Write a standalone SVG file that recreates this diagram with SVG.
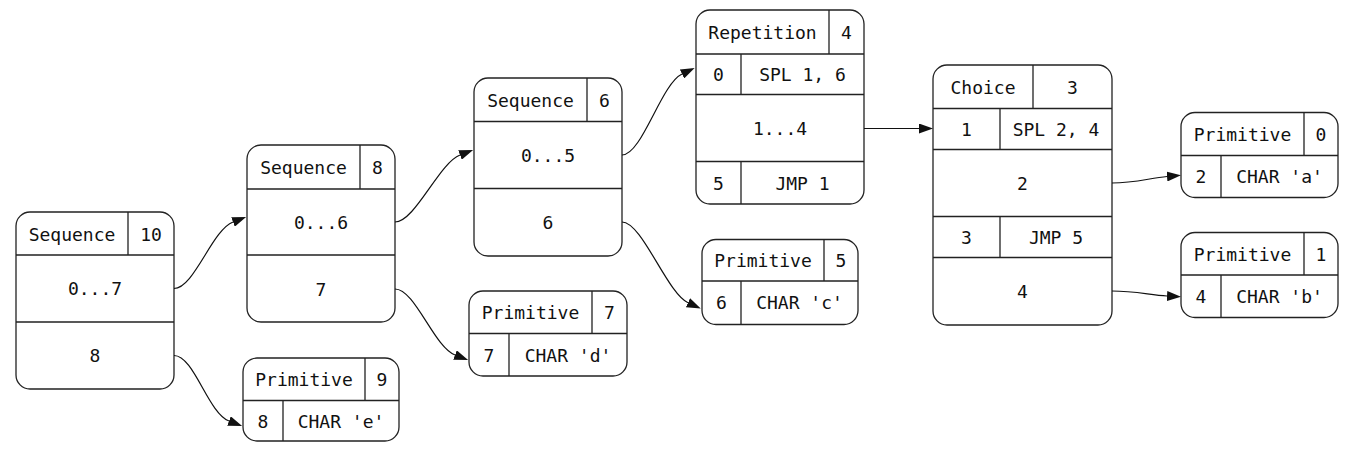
<svg xmlns="http://www.w3.org/2000/svg" width="1355" height="454" viewBox="0 0 1355 454">
<style>
.b{fill:#fff;stroke:#222;stroke-width:1.3}
.l{stroke:#222;stroke-width:1.3;fill:none}
.e{stroke:#111;stroke-width:1.2;fill:none}
text{font-family:"DejaVu Sans Mono",monospace;font-size:18px;fill:#111;text-anchor:middle}
</style>
<defs>
<marker id="a" viewBox="0 0 14 10" refX="0" refY="5" markerWidth="14" markerHeight="10" markerUnits="userSpaceOnUse" orient="auto">
<polygon points="0,0 14,5 0,10" fill="#111"/>
</marker>
</defs>
<rect width="1355" height="454" fill="#fff"/>
<g id="seq10">
<rect class="b" x="16" y="212" width="158" height="177" rx="14"/>
<path class="l" d="M16,255H174M128,212V255M16,322H174"/>
<text x="72" y="240.5">Sequence</text><text x="151" y="240.5">10</text>
<text x="95" y="295">0...7</text><text x="95" y="362">8</text>
</g>
<g id="seq8">
<rect class="b" x="247" y="145" width="148" height="177" rx="14"/>
<path class="l" d="M247,189H395M360,145V189M247,255H395"/>
<text x="303.5" y="173.5">Sequence</text><text x="377.5" y="173.5">8</text>
<text x="321" y="228.5">0...6</text><text x="321" y="295.5">7</text>
</g>
<g id="prim9">
<rect class="b" x="243" y="358" width="156" height="83" rx="14"/>
<path class="l" d="M243,400.5H399M365,358V400.5M283,400.5V441"/>
<text x="304" y="385.5">Primitive</text><text x="382" y="385.5">9</text>
<text x="263" y="427.5">8</text><text x="341" y="427.5">CHAR 'e'</text>
</g>
<g id="seq6">
<rect class="b" x="474" y="78" width="148" height="178" rx="14"/>
<path class="l" d="M474,121.5H622M587,78V121.5M474,188.5H622"/>
<text x="530.5" y="106.5">Sequence</text><text x="604.5" y="106.5">6</text>
<text x="548" y="161.5">0...5</text><text x="548" y="228.5">6</text>
</g>
<g id="prim7">
<rect class="b" x="469" y="291" width="158" height="85" rx="14"/>
<path class="l" d="M469,333.5H627M592,291V333.5M509,333.5V376"/>
<text x="530.5" y="318.5">Primitive</text><text x="609.5" y="318.5">7</text>
<text x="489" y="361.5">7</text><text x="568" y="361.5">CHAR 'd'</text>
</g>
<g id="rep4">
<rect class="b" x="696" y="10" width="168" height="194" rx="14"/>
<path class="l" d="M696,54H864M829,10V54M696,94.5H864M696,161.5H864M741,54V94.5M741,161.5V204"/>
<text x="762.5" y="38.5">Repetition</text><text x="846.5" y="38.5">4</text>
<text x="718.5" y="80.5">0</text><text x="802.5" y="80.5">SPL 1, 6</text>
<text x="780" y="134.5">1...4</text>
<text x="718.5" y="189.5">5</text><text x="802.5" y="189.5">JMP 1</text>
</g>
<g id="prim5">
<rect class="b" x="702" y="239.5" width="156" height="85" rx="14"/>
<path class="l" d="M702,281H858M824,239.5V281M741,281V324.5"/>
<text x="763" y="266.5">Primitive</text><text x="841" y="266.5">5</text>
<text x="721.5" y="309">6</text><text x="799.5" y="309">CHAR 'c'</text>
</g>
<g id="choice3">
<rect class="b" x="933" y="65" width="179" height="260" rx="14"/>
<path class="l" d="M933,108.5H1112M1033,65V108.5M933,149.5H1112M933,216.5H1112M933,257.5H1112M1000,108.5V149.5M1000,216.5V257.5"/>
<text x="983" y="93.5">Choice</text><text x="1072.5" y="93.5">3</text>
<text x="966.5" y="135.5">1</text><text x="1056" y="135.5">SPL 2, 4</text>
<text x="1022.5" y="189.5">2</text>
<text x="966.5" y="243.5">3</text><text x="1056" y="243.5">JMP 5</text>
<text x="1022.5" y="297.5">4</text>
</g>
<g id="prim0">
<rect class="b" x="1181" y="112.5" width="157" height="85" rx="14"/>
<path class="l" d="M1181,155.5H1338M1304,112.5V155.5M1221,155.5V197.5"/>
<text x="1242.5" y="140.5">Primitive</text><text x="1321" y="140.5">0</text>
<text x="1201" y="183">2</text><text x="1279.5" y="183">CHAR 'a'</text>
</g>
<g id="prim1">
<rect class="b" x="1181" y="232.5" width="157" height="85" rx="14"/>
<path class="l" d="M1181,275H1338M1304,232.5V275M1221,275V317.5"/>
<text x="1242.5" y="260.5">Primitive</text><text x="1321" y="260.5">1</text>
<text x="1201" y="302.5">4</text><text x="1279.5" y="302.5">CHAR 'b'</text>
</g>
<g id="edges">
<path class="e" marker-end="url(#a)" d="M174,288.5C194,288.5 212,230 233,222"/>
<path class="e" marker-end="url(#a)" d="M174,355.5C194,355.5 208,413 229,421"/>
<path class="e" marker-end="url(#a)" d="M395,222C415,222 439,163 460,155"/>
<path class="e" marker-end="url(#a)" d="M395,289C415,289 434,347 455,355"/>
<path class="e" marker-end="url(#a)" d="M622,155C642,155 661,84 682,74"/>
<path class="e" marker-end="url(#a)" d="M622,222C642,222 667,293 688,302.7"/>
<path class="e" marker-end="url(#a)" d="M864,128.5L919,128.5"/>
<path class="e" marker-end="url(#a)" d="M1112,183C1135,183 1150,178 1167,176.5"/>
<path class="e" marker-end="url(#a)" d="M1112,291C1135,291 1150,295 1167,296"/>
</g>
</svg>
